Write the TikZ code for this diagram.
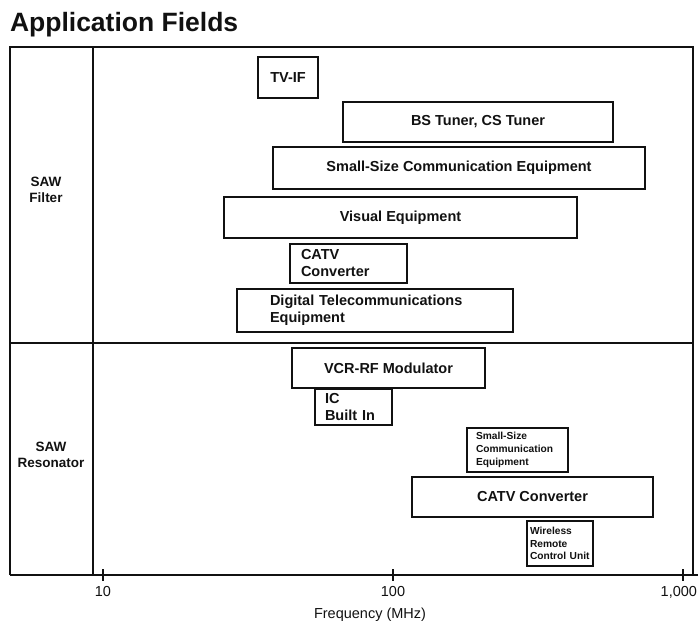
\documentclass[tikz,border=0pt]{standalone}
\usepackage{fontspec}
\setmainfont{Liberation Sans}
\usetikzlibrary{positioning}
\definecolor{appInk}{HTML}{111111}
\tikzset{
  app chart/.style={
    x=1pt, y=-1pt, draw=appInk, line width=1.3pt,
    every node/.style={text=appInk, inner sep=0pt, outer sep=0pt}
  },
  app box/.style={draw=appInk, line width=1.7pt,
    font=\fontsize{14.5}{17}\bfseries\selectfont},
  app span/.style n args={4}{
    minimum width={(#3-#1)*1pt}, minimum height={(#4-#2)*1pt},
    at={({(#1+#3)/2},{(#2+#4)/2})}
  },
  app tiny/.style={font=\fontsize{10.2}{12.8}\bfseries\selectfont},
  app side/.style={font=\fontsize{13.5}{16}\bfseries\selectfont, align=center},
  app axis/.style={font=\fontsize{14.5}{17}\selectfont}
}

\begin{document}
\begin{tikzpicture}[app chart]
    \useasboundingbox (0,0) rectangle (698,628);
    \node[anchor=base west, font=\fontsize{26.5}{31}\bfseries\selectfont]
      (title) at (10,32) {Application Fields};
    % frame and rows
    \draw (10,575) -- (10,47) -- (693,47) -- (693,575);
    \draw (10,575) -- (698,575);
    \draw (93,47) -- (93,575);
    \draw (10,343) -- (693,343);
    \node[app side] (filter) at (46,190) {SAW\\Filter};
    \node[app side] (resonator) at (51,455) {SAW\\Resonator};
    % SAW filter
    \node[app box, app span={258}{57}{318}{98}] (tvif) {TV-IF};
    \node[app box, app span={343}{102}{613}{142}] (bstuner) {BS Tuner, CS Tuner};
    \node[app box, app span={273}{147}{645}{189}] (smallcom) {Small-Size Communication Equipment};
    \node[app box, app span={224}{197}{577}{238}] (visual) {Visual Equipment};
    \node[app box, app span={290}{244}{407}{283}, align=left,
      text width=95pt] (catvf) {CATV\\Converter};
    \node[app box, app span={237}{289}{513}{332}, align=left,
      text width=210pt] (digital) {Digital Telecommunications\\Equipment};
    % SAW resonator
    \node[app box, app span={292}{348}{485}{388}] (vcrrf) {VCR-RF Modulator};
    \node[app box, app span={315}{389}{392}{425}, align=left,
      text width=57pt] (icbuilt) {IC\\Built In};
    \node[app box, app tiny, app span={467}{428}{568}{472}, align=left,
      text width=83pt] (smallres) {Small-Size\\Communication\\Equipment};
    \node[app box, app span={412}{477}{653}{517}] (catvr) {CATV Converter};
    \node[app box, app tiny, app span={527}{521}{593}{566}, align=left,
      text width=60pt] (remote) {Wireless\\Remote\\Control Unit};
    % frequency axis
    \foreach \x in {103,393,683}
      \draw (\x,569) -- (\x,581);
    \node[app axis, anchor=base] (deca) at (103,596) {10};
    \node[app axis, anchor=base] (decb) at (393,596) {100};
    \node[app axis, anchor=base east] (decc) at (697,596) {1,000};
    \node[app axis, anchor=base] (freq) at (370,618) {Frequency (MHz)};
  \end{tikzpicture}
\end{document}
